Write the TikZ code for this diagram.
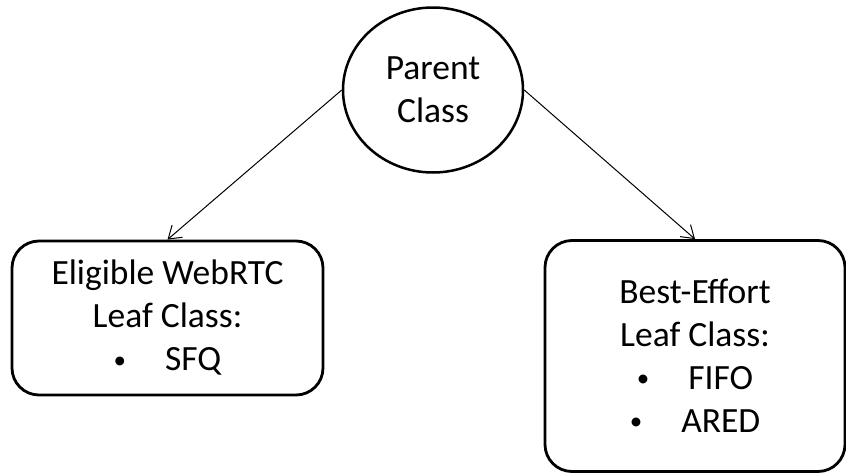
\documentclass[tikz,border=0pt]{standalone}
\usepackage{fontspec}
\setmainfont{Carlito}
\usetikzlibrary{shapes.geometric,arrows.meta}
\tikzset{
    classtext/.style={align=center,font=\fontsize{35.5}{43}\selectfont},
    leafbox/.style={classtext,draw,line width=2.8pt,rounded corners=27pt,inner sep=0pt},
    childarrow/.style={line width=1pt,-{Straight Barb[length=12pt,width=16pt]}}
}
\newcommand{\itembullet}[1]{\raisebox{0.08em}{\fontsize{25}{25}\selectfont\textbullet}\hspace{1.1em}#1}
\begin{document}
\begin{tikzpicture}[x=1pt,y=-1pt]
\useasboundingbox (0,0) rectangle (846,474);
\node[classtext,draw,ellipse,line width=2.5pt,minimum width=180pt,minimum height=165pt,inner sep=0pt] (parent) at (433,90) {Parent\\Class};
\node[leafbox,minimum width=311pt,minimum height=154pt] (webrtcleaf) at (167.5,318) {Eligible WebRTC\\Leaf Class:\\\itembullet{SFQ}};
\node[leafbox,minimum width=300pt,minimum height=231pt] (beleaf) at (695,356) {Best-Effort\\Leaf Class:\\\itembullet{FIFO}\\\itembullet{ARED}};
    \draw[childarrow] (parent.west) -- (webrtcleaf.north);
    \draw[childarrow] (parent.east) -- (beleaf.north);
\end{tikzpicture}
\end{document}
